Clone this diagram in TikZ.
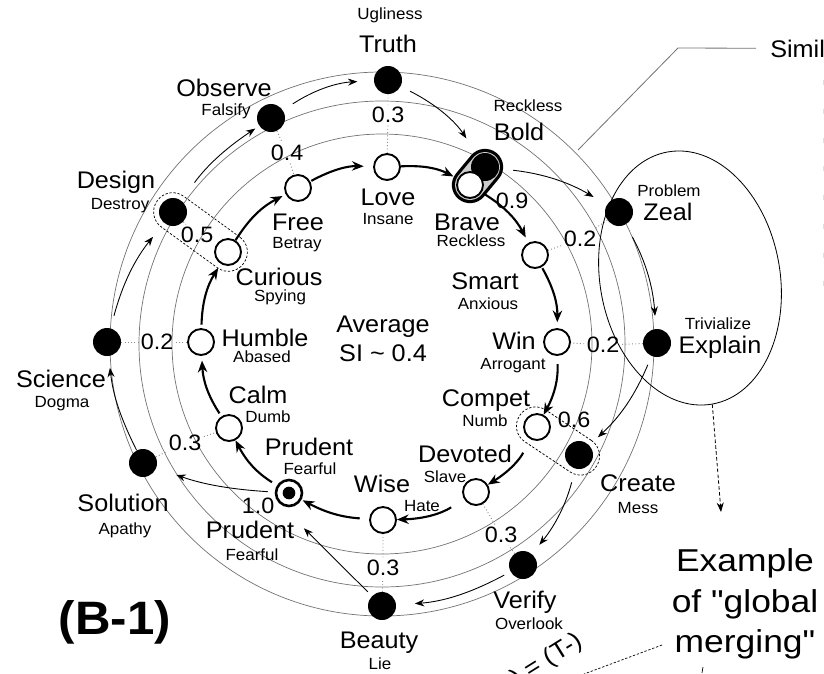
\documentclass[tikz,border=0pt]{standalone}
\usepackage{fontspec}
\setmainfont{Liberation Sans}[FakeStretch=1.05]
\newfontfamily\widefont{Liberation Sans}[FakeStretch=1.12]
\usetikzlibrary{positioning,shapes.geometric,arrows.meta,backgrounds}
\newcommand{\ringA}{(382,344) circle (210)}
\newcommand{\ringB}{(382,344) circle (243)}
\newcommand{\ringC}{(382,344) circle (272)}
\tikzset{
  ring/.style={black!55, line width=0.6pt},
  bnode/.style={circle, fill=black, minimum size=0.84cm, inner sep=0pt},
  wnode/.style={circle, draw, fill=white, line width=1.6pt, minimum size=0.78cm, inner sep=0pt},
  big/.style={font=\fontsize{20.5}{24}\selectfont, inner sep=1pt, text height=14.7pt, text depth=0pt},
  small/.style={font=\fontsize{13.8}{16}\selectfont, inner sep=1pt, text height=9.9pt, text depth=0pt},
  simval/.style={font=\fontsize{19}{22}\selectfont, inner sep=2pt, text height=13.6pt, text depth=0pt},
  simline/.style={black!45, dotted, line width=0.8pt},
  outer/.style={-{Stealth[length=8pt,width=6pt]}, line width=0.75pt},
  inner/.style={-{Stealth[length=10pt,width=8pt]}, line width=1.8pt},
  capsule/.style={draw, dash pattern=on 2pt off 1.5pt, line width=0.6pt, rounded corners=0.56cm, minimum height=1.14cm, inner sep=0pt},
}
\begin{document}
\begin{tikzpicture}[x=0.03cm, y=-0.03cm]
\useasboundingbox (0,0) rectangle (824,673);

% outer ring
\node[bnode] (truth) at (388,80) {};
\node[bnode] (bold) at (485,167) {};
\node[bnode] (zeal) at (619,212) {};
\node[bnode] (explain) at (657,343) {};
\node[bnode] (create) at (579,455) {};
\node[bnode] (verify) at (523,565) {};
\node[bnode] (beauty) at (382,606) {};
\node[bnode] (solution) at (143,463) {};
\node[bnode] (science) at (107,342) {};
\node[bnode] (design) at (173,212) {};
\node[bnode] (observe) at (271,118) {};

% inner ring
\node[wnode] (love) at (387,167) {};
\node[wnode] (brave) at (470,185) {};
\node[wnode] (smart) at (535,255) {};
\node[wnode] (win) at (557,342) {};
\node[wnode] (compet) at (537,427) {};
\node[wnode] (devoted) at (476,492) {};
\node[wnode] (wise) at (383,520) {};
\node[wnode, line width=2.2pt] (prudent) at (289,493) {};
\node[bnode, minimum size=0.38cm] (prudentdot) at (prudent) {};
\node[wnode] (calm) at (229,428) {};
\node[wnode] (humble) at (201,342) {};
\node[wnode] (curious) at (228,252) {};
\node[wnode] (free) at (298,188) {};

% names
\node[small] (truthsub) at (390,14) {Ugliness};
\node[big] (truthlbl) at (388,44) {Truth};
\node[small] (boldsub) at (528,106) {Reckless};
\node[big] (boldlbl) at (519,132) {Bold};
\node[small] (zealsub) at (669,191) {Problem};
\node[big] (zeallbl) at (668,212) {Zeal};
\node[small] (explainsub) at (718,324) {Trivialize};
\node[big] (explainlbl) at (720,345) {Explain};
\node[big] (createlbl) at (638,483) {Create};
\node[small] (createsub) at (638,508) {Mess};
\node[big] (verifylbl) at (525,600) {Verify};
\node[small] (verifysub) at (529,624) {Overlook};
\node[big] (beautylbl) at (379,640) {Beauty};
\node[small] (beautysub) at (380,664) {Lie};
\node[big] (solutionlbl) at (123,503) {Solution};
\node[small] (solutionsub) at (125,529) {Apathy};
\node[big] (sciencelbl) at (61,379) {Science};
\node[small] (sciencesub) at (62,402) {Dogma};
\node[big] (designlbl) at (116,180) {Design};
\node[small] (designsub) at (120,204) {Destroy};
\node[big] (observelbl) at (224,88) {Observe};
\node[small] (observesub) at (226,110) {Falsify};

\node[big] (lovelbl) at (388,197) {Love};
\node[small] (lovesub) at (388,219) {Insane};
\node[big] (bravelbl) at (467,222) {Brave};
\node[small] (bravesub) at (471,241) {Reckless};
\node[big] (smartlbl) at (485,281) {Smart};
\node[small] (smartsub) at (488,304) {Anxious};
\node[big] (winlbl) at (514,341) {Win};
\node[small] (winsub) at (513,364) {Arrogant};
\node[big] (competlbl) at (486,398) {Compet};
\node[small] (competsub) at (485,421) {Numb};
\node[big] (devotedlbl) at (465,454) {Devoted};
\node[small] (devotedsub) at (445,477) {Slave};
\node[big] (wiselbl) at (382,484) {Wise};
\node[small] (wisesub) at (422,506) {Hate};
\node[big] (prudentlbl) at (309,447) {Prudent};
\node[small] (prudentsub) at (310,469) {Fearful};
\node[big] (prudlbl2) at (250,530) {Prudent};
\node[small] (prudsub2) at (252,555) {Fearful};
\node[big] (calmlbl) at (258,395) {Calm};
\node[small] (calmsub) at (268,417) {Dumb};
\node[big] (humblelbl) at (265,338) {Humble};
\node[small] (humblesub) at (262,357) {Abased};
\node[big] (curiouslbl) at (279,277) {Curious};
\node[small] (curioussub) at (280,296) {Spying};
\node[big] (freelbl) at (298,222) {Free};
\node[small] (freesub) at (297,243) {Betray};

\node[font=\fontsize{20.5}{24.7}\selectfont, align=center, inner sep=0pt] (average) at (383,339) {Average\\SI \textasciitilde{} 0.4};

% similarity values
\node[simval] (s1) at (388,115) {0.3};
\node[simval] (s2) at (512,201) {0.9};
\node[simval] (s3) at (580,239) {0.2};
\node[simval] (s4) at (603,345) {0.2};
\node[simval] (s5) at (574,420) {0.6};
\node[simval] (s6) at (501,535) {0.3};
\node[simval] (s7) at (383,568) {0.3};
\node[simval] (s8) at (258,506) {1.0};
\node[simval] (s9) at (185,443) {0.3};
\node[simval] (s10) at (157,342) {0.2};
\node[simval] (s11) at (197,235) {0.5};
\node[simval] (s12) at (287,153) {0.4};

\begin{scope}[on background layer]
\draw[ring] \ringA;
\draw[ring] \ringB;
\draw[ring] \ringC;
\draw[line width=31pt, line cap=round] (brave.center) -- (bold.center);
\draw[line width=25.5pt, line cap=round, black!20] (brave.center) -- (bold.center);
\path (design.center) -- (curious.center) node[capsule, midway, sloped, minimum width=3.2cm] (designpair) {};
\path (compet.center) -- (create.center) node[capsule, midway, sloped, minimum width=2.76cm] (competpair) {};
\draw[simline] (truth) -- (s1) -- (love);
\draw[simline] (zeal) -- (s3) -- (smart);
\draw[simline] (explain) -- (s4) -- (win);
\draw[simline] (verify) -- (s6) -- (devoted);
\draw[simline] (beauty) -- (s7) -- (wise);
\draw[simline] (solution) -- (s9) -- (calm);
\draw[simline] (science) -- (s10) -- (humble);
\draw[simline] (design) -- (s11) -- (curious);
\draw[simline] (observe) -- (s12) -- (free);
\end{scope}

% outer cycle
\draw[outer, shorten <=10pt, shorten >=14pt] (observe) to[bend left=15] (truth);
\draw[outer, shorten <=9pt, shorten >=17pt] (truth) to[bend left=15] (bold);
\draw[outer, shorten <=12pt, shorten >=13pt] (bold) to[bend left=12] (zeal);
\draw[outer, shorten <=12pt, shorten >=11pt] (zeal) to[bend left=12] (explain);
\draw[outer, shorten <=8pt, shorten >=10pt] (explain) to[bend left=12] (create);
\draw[outer, shorten <=12pt, shorten >=10pt] (create) to[bend left=12] (verify);
\draw[outer, shorten <=6pt, shorten >=16pt] (verify) to[bend left=12] (beauty);
\draw[outer, shorten <=5pt, shorten >=10pt] (beauty) -- (prudlbl2.north east);
\draw[outer, shorten <=6pt, shorten >=18pt] (prudent) to[bend left=8] (solution);
\draw[outer, shorten >=10pt] (solution) to[bend left=10] (science);
\draw[outer, shorten <=11pt, shorten >=15pt] (science) to[bend left=12] (design);
\draw[outer, shorten <=19pt, shorten >=4pt] (design) to[bend left=10] (observe);

% inner cycle
\draw[inner, shorten <=1pt, shorten >=8pt] (free) to[bend left=15] (love);
\draw[inner, shorten >=4pt] (love) to[bend left=15] (brave);
\draw[inner, shorten <=3pt, shorten >=5pt] (brave) to[bend left=15] (smart);
\draw[inner, shorten <=1pt, shorten >=5pt] (smart) to[bend left=15] (win);
\draw[inner, shorten <=7pt] (win) to[bend left=15] (compet);
\draw[inner, shorten <=13pt] (compet) to[bend left=15] (devoted);
\draw[inner, shorten <=13pt] (devoted) to[bend left=15] (wise);
\draw[inner, shorten <=8pt, shorten >=1pt] (wise) to[bend left=12] (prudent);
\draw[inner, shorten <=5pt] (prudent) to[bend left=15] (calm);
\draw[inner, shorten <=3pt, shorten >=4pt] (calm) to[bend left=15] (humble);
\draw[inner, shorten <=3pt, shorten >=4pt] (humble) to[bend left=15] (curious);
\draw[inner, shorten >=3pt] (curious) to[bend left=15] (free);

% global merging
\node[draw, ellipse, rotate=10, minimum width=5.4cm, minimum height=7.68cm, inner sep=0pt, line width=0.7pt] (merge) at (690,278) {};
\coordinate (mergetip) at (721,512);
\draw[dash pattern=on 3pt off 2pt, line width=0.7pt, -{Stealth[length=8pt,width=6pt]}] (merge.south) -- (mergetip);
\node[font=\widefont\fontsize{27}{34.6}\selectfont, align=center, inner sep=0pt] (example) at (745,604) {Example\\of "global\\merging"};
\coordinate (mergeleft) at (662,645);
\coordinate (tcut) at (584,674);
\draw[dash pattern=on 2pt off 1.5pt, line width=0.6pt] (mergeleft) -- (tcut);
\node[font=\fontsize{21}{24}\selectfont, rotate=32, anchor=base east, inner sep=0pt] (tpair) at (584,645) {) = (T-)};
\draw[line width=0.6pt] (703,667) -- (702,673);

% similarity legend (cut off)
\node[big, anchor=base west, inner xsep=12pt] (simil) at (756,57) {Simil};
\coordinate (simbend) at (678,48);
\coordinate (simfoot) at (578,150);
\draw[ring, line width=0.7pt] (simfoot) -- (simbend) -- (simil);
\foreach \y in {82,111,140,168,197,226,255,283}
  \draw[black!12, line width=1pt] (823.5,\y-2.5) -- (823.5,\y+2.5);

\node[font=\fontsize{40}{44}\selectfont\bfseries] (tag) at (115,622) {(B-1)};
\end{tikzpicture}
\end{document}
